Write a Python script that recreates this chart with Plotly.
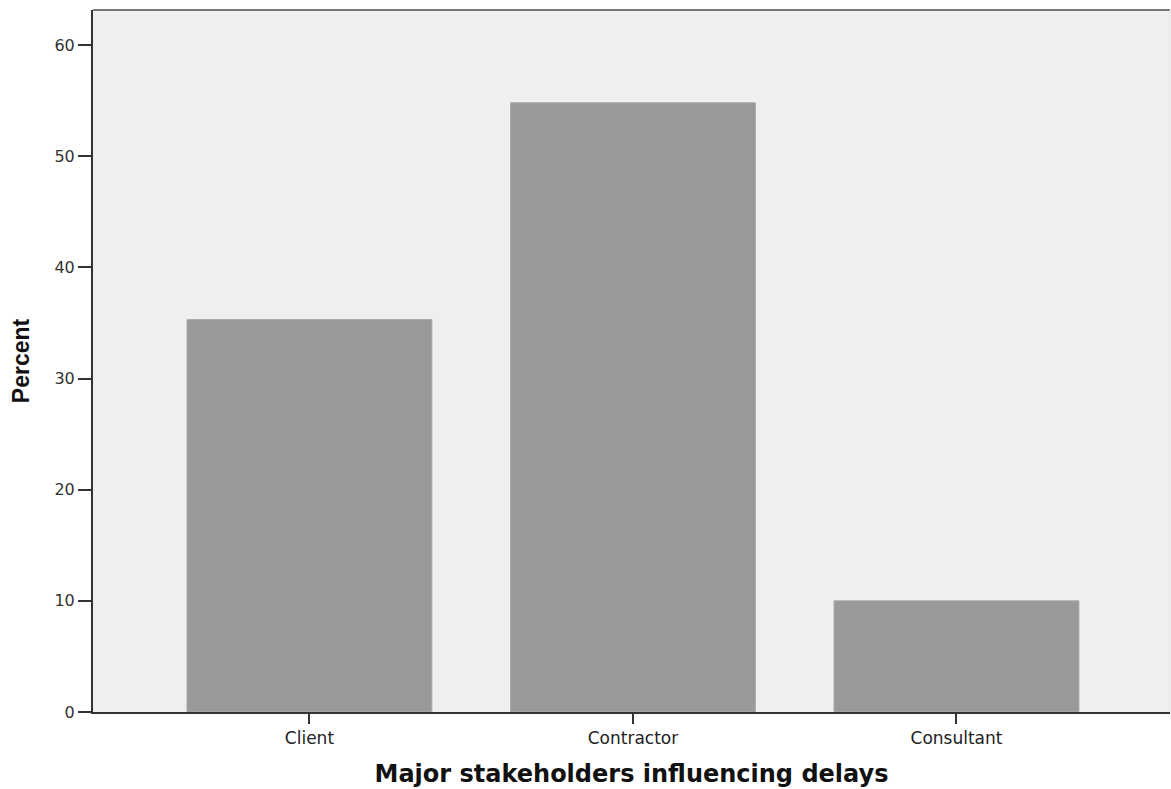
import plotly.graph_objects as go

categories = ["Client", "Contractor", "Consultant"]
percent = [35.3, 54.8, 10.0]
y_ticks = [0, 10, 20, 30, 40, 50, 60]

fig = go.Figure()
fig.add_trace(go.Bar(
    x=categories, y=percent, width=0.757,
    marker=dict(color="#999999", line=dict(color="#aaaaaa", width=1)),
    hoverinfo="x+y",
))

fig.update_layout(
    width=1171, height=789,
    margin=dict(l=93, r=1, t=10, b=77),
    paper_bgcolor="white",
    plot_bgcolor="#efefef",
    showlegend=False,
    font=dict(family="DejaVu Sans, Verdana, sans-serif", color="#222"),
    xaxis=dict(
        range=[-0.669, 2.66],
        showline=True, linecolor="#333", linewidth=2,
        ticks="outside", ticklen=10, tickwidth=2, tickcolor="#333",
        tickfont=dict(size=17, color="#222"),
        showgrid=False, zeroline=False,
        title=dict(text="<b>Major stakeholders influencing delays</b>",
                   font=dict(size=24, color="#111", family="DejaVu Sans, Verdana, sans-serif"),
                   standoff=18),
    ),
    yaxis=dict(
        range=[0, 63.15],
        tickvals=y_ticks,
        showline=True, linecolor="#333", linewidth=2,
        ticks="outside", ticklen=13, tickwidth=2, tickcolor="#333",
        tickfont=dict(size=16, color="#333"),
        showgrid=False, zeroline=False,
        title=dict(text="<b>Percent</b>",
                   font=dict(size=23, color="#111", family="Liberation Sans, Arial, sans-serif"),
                   standoff=18),
    ),
    shapes=[
        dict(type="line", xref="paper", yref="paper", x0=0, x1=1, y0=1, y1=1,
             line=dict(color="#777777", width=2)),
        dict(type="line", xref="paper", yref="paper", x0=1, x1=1, y0=0, y1=1,
             line=dict(color="#dddddd", width=1)),
    ],
)

fig.write_html(
    "out.html",
    config={"displayModeBar": False},
    post_script="document.body.style.margin='0';document.body.style.overflow='hidden';",
)
